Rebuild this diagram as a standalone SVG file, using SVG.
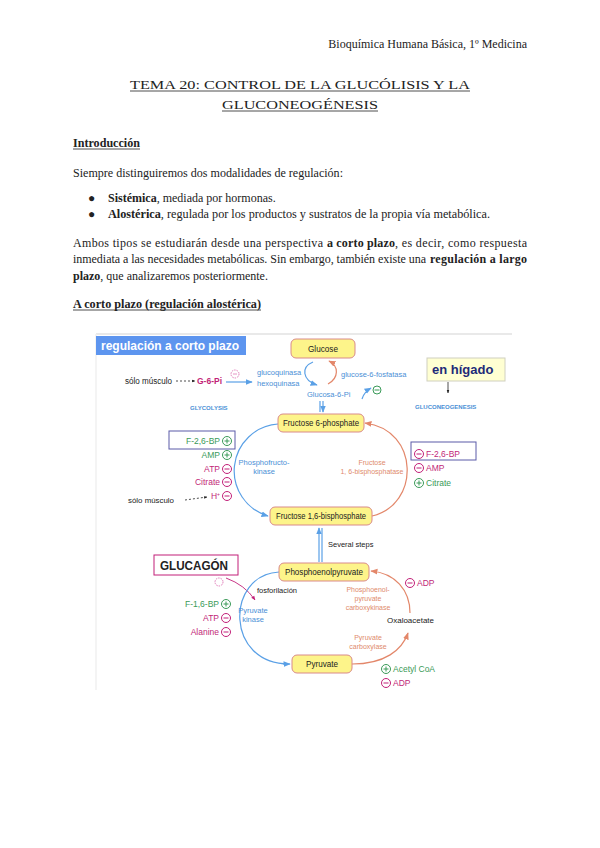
<svg xmlns="http://www.w3.org/2000/svg" width="600" height="848" viewBox="0 0 600 848">
<defs>
<style>
.doc{font-family:"Liberation Serif","Times New Roman",serif;font-size:12px;fill:#222}
.b{font-weight:bold}
.d{font-family:"Liberation Sans",Arial,sans-serif}
.box{fill:#fdf48a;stroke:#d98a8a;stroke-width:1}
.bt{font-family:"Liberation Sans",Arial,sans-serif;font-size:9px;fill:#222;text-anchor:middle}
.blue{fill:#4a8fd6}
.sal{fill:#e08a6c}
.mag{fill:#c21f78}
.grn{fill:#3a9a58}
.blk{fill:#222}
.s7{font-size:7.5px}
.s8{font-size:8.5px}
.mid{text-anchor:middle}
.end{text-anchor:end}
.ab{fill:none;stroke:#5aa0e6;stroke-width:1.2}
.ar{fill:none;stroke:#e3876a;stroke-width:1.2}
.cm{fill:#fff;stroke:#c21f78;stroke-width:1}
.cg{fill:#fff;stroke:#3a9a58;stroke-width:1}
.sm{stroke:#c21f78;stroke-width:1}
.sg{stroke:#3a9a58;stroke-width:1}
.ul{stroke:#222;stroke-width:0.8}
</style>
<marker id="mb" viewBox="0 0 10 10" refX="9" refY="5" markerWidth="6" markerHeight="6" orient="auto"><path d="M0,1 L10,5 L0,9 z" fill="#5aa0e6"/></marker>
<marker id="mr" viewBox="0 0 10 10" refX="9" refY="5" markerWidth="6" markerHeight="6" orient="auto"><path d="M0,1 L10,5 L0,9 z" fill="#e3876a"/></marker>
<marker id="mm" viewBox="0 0 10 10" refX="9" refY="5" markerWidth="5" markerHeight="5" orient="auto"><path d="M0,1 L10,5 L0,9 z" fill="#c21f78"/></marker>
<marker id="mk" viewBox="0 0 10 10" refX="9" refY="5" markerWidth="4" markerHeight="4" orient="auto"><path d="M0,1 L10,5 L0,9 z" fill="#222"/></marker>
</defs>
<rect width="600" height="848" fill="#fff"/>

<!-- document text -->
<g id="doc">
<text class="doc" x="527" y="48" text-anchor="end">Bioquímica Humana Básica, 1º Medicina</text>
<text class="doc" x="130" y="89" font-size="16" textLength="340" lengthAdjust="spacingAndGlyphs">TEMA 20: CONTROL DE LA GLUCÓLISIS Y LA</text>
<line class="ul" x1="130" y1="91" x2="470" y2="91"/>
<text class="doc" x="222" y="109" font-size="16" textLength="156" lengthAdjust="spacingAndGlyphs">GLUCONEOGÉNESIS</text>
<line class="ul" x1="222" y1="111" x2="378" y2="111"/>
<text class="doc b" x="73" y="147" textLength="67" lengthAdjust="spacingAndGlyphs">Introducción</text>
<line class="ul" x1="73" y1="149" x2="140" y2="149"/>
<text class="doc" x="73" y="177" textLength="270" lengthAdjust="spacingAndGlyphs">Siempre distinguiremos dos modalidades de regulación:</text>
<text class="doc" x="88" y="202" font-size="9">●</text>
<text class="doc" x="108" y="202"><tspan class="b">Sistémica</tspan>, mediada por hormonas.</text>
<text class="doc" x="88" y="218" font-size="9">●</text>
<text class="doc" x="108" y="218" textLength="382" lengthAdjust="spacingAndGlyphs"><tspan class="b">Alostérica</tspan>, regulada por los productos y sustratos de la propia vía metabólica.</text>
<text class="doc" x="73" y="247" textLength="250" lengthAdjust="spacing">Ambos tipos se estudiarán desde una perspectiva</text>
<text class="doc b" x="327" y="247" textLength="68" lengthAdjust="spacing">a corto plazo</text>
<text class="doc" x="395" y="247" textLength="132" lengthAdjust="spacing">, es decir, como respuesta</text>
<text class="doc" x="73" y="263" textLength="353" lengthAdjust="spacing">inmediata a las necesidades metabólicas. Sin embargo, también existe una</text>
<text class="doc b" x="430" y="263" textLength="97" lengthAdjust="spacing">regulación a largo</text>
<text class="doc" x="73" y="280"><tspan class="b">plazo</tspan>, que analizaremos posteriormente.</text>
<text class="doc b" x="73" y="308" textLength="188" lengthAdjust="spacingAndGlyphs">A corto plazo (regulación alostérica)</text>
<line class="ul" x1="73" y1="310" x2="261" y2="310"/>
</g>

<!-- diagram frame -->
<line x1="96" y1="334" x2="512" y2="334" stroke="#e2e2e2" stroke-width="1.5"/>
<line x1="96" y1="334" x2="96" y2="690" stroke="#f0f0f0" stroke-width="1.5"/>

<g id="title-banner">
<rect x="96" y="336" width="150" height="19" fill="#5d95ef"/>
<text class="d b" x="101" y="350" font-size="13" fill="#fff" textLength="138" lengthAdjust="spacingAndGlyphs">regulación a corto plazo</text>
</g>

<!-- connectors -->
<g id="connectors">
<line x1="176" y1="381" x2="195" y2="381" stroke="#222" stroke-width="0.8" stroke-dasharray="2,2" marker-end="url(#mk)"/>
<line class="ab" x1="226" y1="382" x2="252" y2="382" marker-end="url(#mb)"/>
<path class="ab" d="M313,362 C301,367 302,380 317,385" marker-end="url(#mb)" stroke-width="2"/>
<path class="ar" d="M328,384 C339,378 339,366 329,361" marker-end="url(#mr)" stroke-width="2"/>
<path class="ab" d="M362,399 Q364,392 371,388" marker-end="url(#mb)" stroke-width="0.8"/>
<line class="ab" x1="320" y1="401" x2="320" y2="412" stroke-width="1"/>
<line class="ab" x1="323" y1="401" x2="323" y2="412" stroke-width="1" marker-end="url(#mb)"/>
<line x1="448" y1="382" x2="448" y2="393" stroke="#222" stroke-width="0.8" marker-end="url(#mk)"/>
<path class="ab" d="M278,424 A47,47 0 0 0 268,516" marker-end="url(#mb)"/>
<path class="ar" d="M372,516 C420,505 420,430 365,423" marker-end="url(#mr)"/>
<line x1="185" y1="500" x2="207" y2="497" stroke="#222" stroke-width="0.8" stroke-dasharray="2,2" marker-end="url(#mk)"/>
<line class="ab" x1="319" y1="562" x2="319" y2="528" stroke-width="1" marker-end="url(#mb)"/>
<line class="ab" x1="322" y1="528" x2="322" y2="562" stroke-width="1"/>
<path d="M226,578 Q245,585 255,600" fill="none" stroke="#c21f78" stroke-width="0.9" marker-end="url(#mm)"/>
<path class="ab" d="M279,572 C225,575 225,665 290,664" marker-end="url(#mb)"/>
<path class="ar" d="M352,664 C385,664 402,650 408,633" marker-end="url(#mr)"/>
<path class="ar" d="M410,613 C410,590 395,573 371,571" marker-end="url(#mr)"/>
</g>

<!-- nodes -->
<g id="glucose"><rect class="box" x="291" y="339" width="64" height="19" rx="5"/><text class="bt" x="323" y="352" textLength="30" lengthAdjust="spacingAndGlyphs">Glucose</text></g>
<g id="g6p-muscle">
<text class="d blk s8" x="125" y="384" textLength="47" lengthAdjust="spacingAndGlyphs">sólo músculo</text>
<text class="d mag b s8" x="197" y="384">G-6-Pi</text>
<circle cx="235" cy="374" r="4" fill="#fff" stroke="#e07ab8" stroke-dasharray="1.5,1"/>
<line x1="233" y1="374" x2="237" y2="374" stroke="#e07ab8" stroke-width="0.8"/>
</g>
<g id="kinases"><text class="d blue s7" x="257" y="375">glucoquinasa</text><text class="d blue s7" x="257" y="386">hexoquinasa</text></g>
<g id="g6pi"><text class="d blue s7" x="307" y="397">Glucosa-6-Pi</text></g>
<g id="g6pase"><text class="d blue s7" x="341" y="377">glucose-6-fosfatasa</text>
<circle class="cg" cx="377" cy="390" r="4"/><line class="sg" x1="374.5" y1="390" x2="379.5" y2="390"/></g>
<g id="glycolysis"><text class="d blue b" font-size="6" x="190" y="410">GLYCOLYSIS</text></g>
<g id="en-higado"><rect x="427" y="358" width="78" height="23" fill="#ffffd2" stroke="#d0d0c0"/>
<text class="d b" x="432" y="374" font-size="13" fill="#1e2a78">en hígado</text></g>
<g id="gluconeogenesis"><text class="d blue b" font-size="6" x="415" y="409">GLUCONEOGENESIS</text></g>

<g id="f6p"><rect class="box" x="278" y="414" width="86" height="18" rx="5"/><text class="bt" x="321" y="426" textLength="76" lengthAdjust="spacingAndGlyphs">Fructose 6-phosphate</text></g>
<g id="pfk"><text class="d blue s7 mid" x="264" y="465">Phosphofructo-</text><text class="d blue s7 mid" x="264" y="474">kinase</text></g>
<g id="pfk-regulators">
<rect x="169" y="431" width="66" height="18" fill="none" stroke="#5a5aa8" stroke-width="1"/>
<text class="d grn s8 end" x="220" y="444">F-2,6-BP</text>
<circle class="cg" cx="227" cy="441" r="4.5"/><line class="sg" x1="224.5" y1="441" x2="229.5" y2="441"/><line class="sg" x1="227" y1="438.5" x2="227" y2="443.5"/>
<text class="d grn s8 end" x="220" y="458">AMP</text>
<circle class="cg" cx="227" cy="455" r="4.5"/><line class="sg" x1="224.5" y1="455" x2="229.5" y2="455"/><line class="sg" x1="227" y1="452.5" x2="227" y2="457.5"/>
<text class="d mag s8 end" x="220" y="472">ATP</text>
<circle class="cm" cx="227" cy="469" r="4.5"/><line class="sm" x1="224.5" y1="469" x2="229.5" y2="469"/>
<text class="d mag s8 end" x="220" y="485">Citrate</text>
<circle class="cm" cx="227" cy="482" r="4.5"/><line class="sm" x1="224.5" y1="482" x2="229.5" y2="482"/>
<text class="d mag s8 end" x="220" y="499">H<tspan font-size="5" dy="-3">+</tspan></text>
<circle class="cm" cx="227" cy="496" r="4.5"/><line class="sm" x1="224.5" y1="496" x2="229.5" y2="496"/>
<text class="d blk s7" x="128" y="503" textLength="46" lengthAdjust="spacingAndGlyphs">sólo músculo</text>
</g>
<g id="fbpase"><text class="d sal mid" font-size="7" x="372" y="465">Fructose</text><text class="d sal mid" font-size="7" x="372" y="474">1, 6-bisphosphatase</text></g>
<g id="fbpase-regulators">
<rect x="411" y="442" width="65" height="18" fill="none" stroke="#5a5aa8" stroke-width="1"/>
<circle class="cm" cx="419" cy="454" r="4.5"/><line class="sm" x1="416.5" y1="454" x2="421.5" y2="454"/>
<text class="d mag s8" x="426" y="457">F-2,6-BP</text>
<circle class="cm" cx="419" cy="468" r="4.5"/><line class="sm" x1="416.5" y1="468" x2="421.5" y2="468"/>
<text class="d mag s8" x="426" y="471">AMP</text>
<circle class="cg" cx="419" cy="483" r="4.5"/><line class="sg" x1="416.5" y1="483" x2="421.5" y2="483"/><line class="sg" x1="419" y1="480.5" x2="419" y2="485.5"/>
<text class="d grn s8" x="426" y="486">Citrate</text>
</g>
<g id="f16bp"><rect class="box" x="270" y="507" width="102" height="18" rx="5"/><text class="bt" x="321" y="519" textLength="90" lengthAdjust="spacingAndGlyphs">Fructose 1,6-bisphosphate</text></g>
<g id="several-steps"><text class="d blk s7" x="328" y="547">Several steps</text></g>

<g id="glucagon"><rect x="154" y="555" width="84" height="20" fill="#fff" stroke="#c21f78" stroke-width="1"/>
<text class="d b blk" x="160" y="570" font-size="12" textLength="68" lengthAdjust="spacingAndGlyphs">GLUCAGÓN</text>
<circle cx="219" cy="582" r="4" fill="#fff" stroke="#e07ab8" stroke-dasharray="1.5,1"/>
<text class="d blk s7" x="257" y="593">fosforilación</text></g>
<g id="pep"><rect class="box" x="279" y="563" width="90" height="18" rx="5"/><text class="bt" x="324" y="575" textLength="78" lengthAdjust="spacingAndGlyphs">Phosphoenolpyruvate</text></g>
<g id="pk"><text class="d blue s7 mid" x="253" y="613">Pyruvate</text><text class="d blue s7 mid" x="253" y="622">kinase</text></g>
<g id="pk-regulators">
<text class="d grn s8 end" x="219" y="607">F-1,6-BP</text>
<circle class="cg" cx="226" cy="604" r="4.5"/><line class="sg" x1="223.5" y1="604" x2="228.5" y2="604"/><line class="sg" x1="226" y1="601.5" x2="226" y2="606.5"/>
<text class="d mag s8 end" x="219" y="621">ATP</text>
<circle class="cm" cx="226" cy="618" r="4.5"/><line class="sm" x1="223.5" y1="618" x2="228.5" y2="618"/>
<text class="d mag s8 end" x="219" y="635">Alanine</text>
<circle class="cm" cx="226" cy="632" r="4.5"/><line class="sm" x1="223.5" y1="632" x2="228.5" y2="632"/>
</g>
<g id="pyruvate"><rect class="box" x="292" y="655" width="60" height="18" rx="5"/><text class="bt" x="322" y="667" textLength="32" lengthAdjust="spacingAndGlyphs">Pyruvate</text></g>
<g id="oxaloacetate"><text class="d blk" font-size="8" x="387" y="623" textLength="47" lengthAdjust="spacingAndGlyphs">Oxaloacetate</text></g>
<g id="pepck"><text class="d sal mid" font-size="7" x="368" y="592">Phosphoenol-</text><text class="d sal mid" font-size="7" x="368" y="601">pyruvate</text><text class="d sal mid" font-size="7" x="368" y="610">carboxykinase</text>
<circle class="cm" cx="410" cy="583" r="4.5"/><line class="sm" x1="407.5" y1="583" x2="412.5" y2="583"/>
<text class="d mag s8" x="417" y="586">ADP</text></g>
<g id="pc"><text class="d sal mid" font-size="7" x="368" y="640">Pyruvate</text><text class="d sal mid" font-size="7" x="368" y="649">carboxylase</text>
<circle class="cg" cx="386" cy="669" r="4.5"/><line class="sg" x1="383.5" y1="669" x2="388.5" y2="669"/><line class="sg" x1="386" y1="666.5" x2="386" y2="671.5"/>
<text class="d grn s8" x="393" y="672">Acetyl CoA</text>
<circle class="cm" cx="386" cy="683" r="4.5"/><line class="sm" x1="383.5" y1="683" x2="388.5" y2="683"/>
<text class="d mag s8" x="393" y="686">ADP</text></g>
</svg>
